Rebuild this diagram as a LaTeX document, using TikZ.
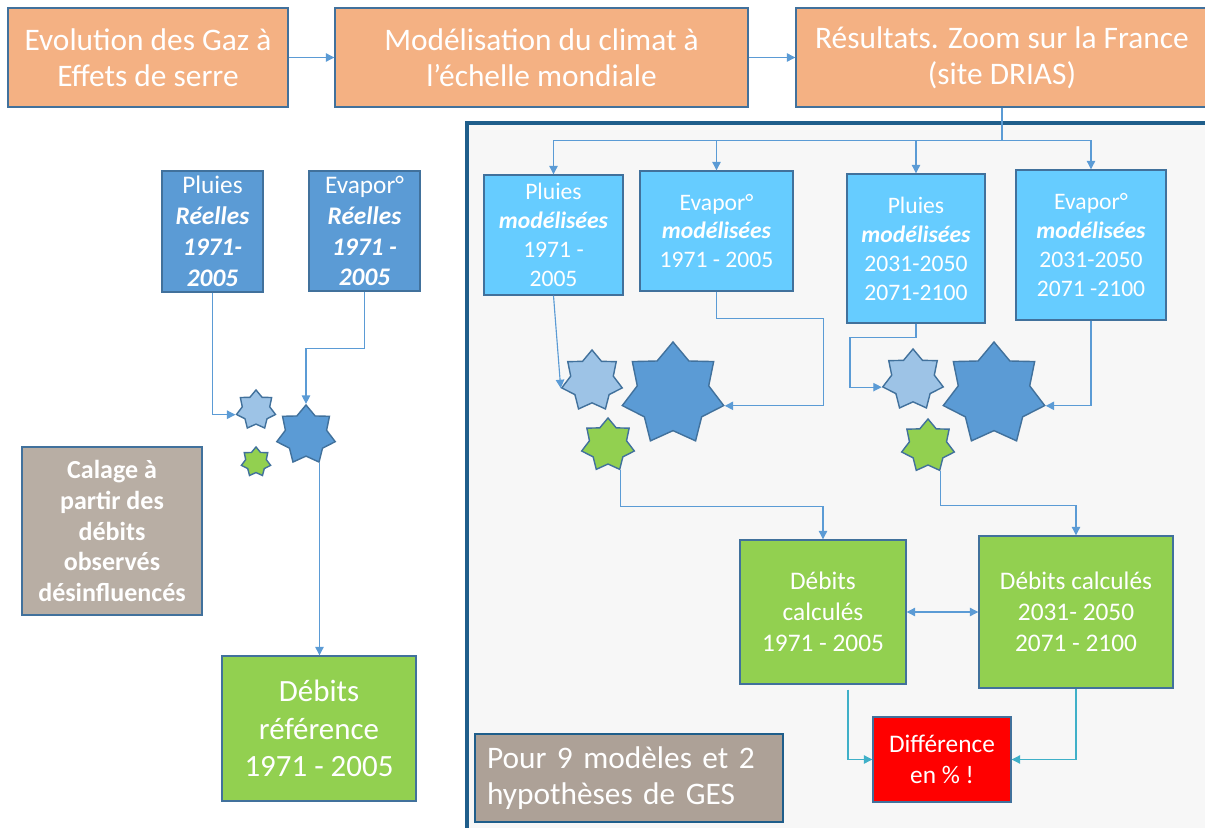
\documentclass[tikz,border=0pt]{standalone}
\usepackage{fontspec}
\setmainfont{Carlito}
\usepackage{tikz}
\usetikzlibrary{calc,positioning,arrows.meta,shapes.geometric}
\definecolor{figOrange}{HTML}{F4B183}
\definecolor{figBlue}{HTML}{5B9BD5}
\definecolor{figSky}{HTML}{66CCFF}
\definecolor{figLight}{HTML}{9DC3E6}
\definecolor{figGreen}{HTML}{92D050}
\definecolor{figGrey}{HTML}{B8AEA4}
\definecolor{figTaupe}{HTML}{ADA197}
\definecolor{figRed}{HTML}{FF0000}
\definecolor{figBorder}{HTML}{41719C}
\definecolor{figFrame}{HTML}{1F5E8B}
\definecolor{figPanel}{HTML}{F7F7F7}
\definecolor{figTeal}{HTML}{3FB0C8}

\begin{document}
\begin{tikzpicture}[
  x=0.025cm, y=-0.025cm,
  >={Triangle[length=6pt,width=6pt]},
  box/.style={rectangle, draw=figBorder, line width=1pt, fill=#1, text=white,
    align=center, inner sep=0pt},
  box/.default=figOrange,
  dims/.style 2 args={minimum width=#1*0.025cm, minimum height=#2*0.025cm},
  big/.style={font=\fontsize{22.3}{25.6}\selectfont},
  mid/.style={font=\fontsize{18}{22}\selectfont},
  small/.style={font=\fontsize{16.8}{20.6}\selectfont},
  star7/.style 2 args={star, star points=7, star point ratio=1.42, draw=figBorder,
    line width=1pt, fill=#1, inner sep=0pt, minimum size=#2},
  link/.style={->, draw=#1, line width=0.8pt},
  link/.default=figBlue,
]
\useasboundingbox (0,0) rectangle (1205,828);

% panel for the simulated series
\draw[figFrame, line width=3pt, fill=figPanel] (467,123) rectangle (1260,880);

% === chain at the top ===
\node[box, dims={280}{99}, big] (gaz) at (148,57.5) {Evolution des Gaz à\\Effets de serre};
\node[box, dims={413}{99}, big] (climat) at (541.5,57.5) {Modélisation du climat à\\l’échelle mondiale};
\node[box, dims={412}{99}, big] (drias) at (1002,57.5) {Résultats. Zoom sur la France\\(site DRIAS)};

\draw[link] (gaz) -- (climat);
\draw[link] (climat) -- (drias);

% === observed series (left) ===
\node[box=figBlue, dims={101}{121}, mid] (pr) at (212.5,231.5)
  {Pluies\\\textbf{\textit{Réelles}}\\\textbf{\textit{1971-}}\\\textbf{\textit{2005}}};
\node[box=figBlue, dims={111}{120}, mid] (er) at (364.5,231)
  {Evapor°\\\textbf{\textit{Réelles}}\\\textbf{\textit{1971 -}}\\\textbf{\textit{2005}}};

\node[star7={figLight}{1cm}] (lstar0) at (256,410) {};
\node[star7={figBlue}{1.5cm}] (bstar0) at (306,435) {};
\node[star7={figGreen}{0.75cm}] (gstar0) at (256,462) {};

\node[box=figGrey, dims={180}{168}, font=\fontsize{18.5}{22}\selectfont\bfseries] (calage) at (112,531)
  {Calage à\\partir des\\débits\\observés\\désinfluencés};
\node[box=figGreen, dims={194}{145}, font=\fontsize{22}{26.7}\selectfont] (ref) at (319,728.5)
  {Débits\\référence\\1971 - 2005};

\draw[link] (pr.south) |- (lstar0.outer point 3);
\draw[link] (er.south) -- ++(0,57) -| (bstar0.outer point 1);
\draw[link] (bstar0.outer point 5) -- (bstar0.outer point 5 |- ref.north);

% === simulated series (right) ===
\node[box=figSky, dims={139}{120}, small] (pm1) at (553.5,235)
  {Pluies\\\textbf{\textit{modélisées}}\\1971 -\\2005};
\node[box=figSky, dims={153}{120}, small] (em1) at (716.5,231)
  {Evapor°\\\textbf{\textit{modélisées}}\\1971 - 2005};
\node[box=figSky, dims={138}{149}, small] (pm2) at (916,248.5)
  {Pluies\\\textbf{\textit{modélisées}}\\2031-2050\\2071-2100};
\node[box=figSky, dims={150}{150}, small] (em2) at (1091,245)
  {Evapor°\\\textbf{\textit{modélisées}}\\2031-2050\\2071 -2100};

\draw[link] (drias.south) -- ++(0,33) coordinate (split) -| (pm1.north);
\draw[link] (split) -| (em1.north);
\draw[link] (split) -| (pm2.north);
\draw[link] (split) -| (em2.north);

\node[star7={figLight}{1.55cm}] (lstar1) at (592,381) {};
\node[star7={figBlue}{2.6cm}] (bstar1) at (673,394) {};
\node[star7={figGreen}{1.35cm}] (gstar1) at (608,445) {};

\node[star7={figLight}{1.55cm}] (lstar2) at (913,380) {};
\node[star7={figBlue}{2.6cm}] (bstar2) at (994,394) {};
\node[star7={figGreen}{1.35cm}] (gstar2) at (928,446) {};

\draw[link] (pm1.south) -- (lstar1.outer point 3);
\draw[link] (em1.south) |- ++(107,27) |- (bstar1.outer point 6);
\draw[link] (pm2.south) |- ++(-66,14) |- (lstar2.outer point 3);
\draw[link] (em2.south) |- (bstar2.outer point 6);

\node[box=figGreen, dims={166}{144}, mid] (calc1) at (823,612)
  {Débits\\calculés\\1971 - 2005};
\node[box=figGreen, dims={194}{152}, mid] (calc2) at (1076,612)
  {Débits calculés\\2031- 2050\\2071 - 2100};
\node[box=figRed, dims={138}{85}, mid] (diff) at (942,759.5)
  {Différence\\en \% !};
\node[box=figTaupe, draw=figFrame, dims={308}{88}, align=left, text width=284*0.025cm,
  font=\fontsize{22.3}{25.5}\selectfont] (ges) at (629,778)
  {Pour 9 modèles et 2\\hypothèses de GES};

\draw[link] (gstar1.outer point 5) -- ++(0,36) -| (calc1.north);
\draw[link] (gstar2.outer point 5) -- ++(0,34) -| (calc2.north);
\draw[link, <->] (calc1.east) -- (calc2.west);

\draw[link=figTeal] ($(calc1.south)+(25,5)$) |- (diff.west);
\draw[link=figTeal] (calc2.south) |- (diff.east);
\end{tikzpicture}
\end{document}
